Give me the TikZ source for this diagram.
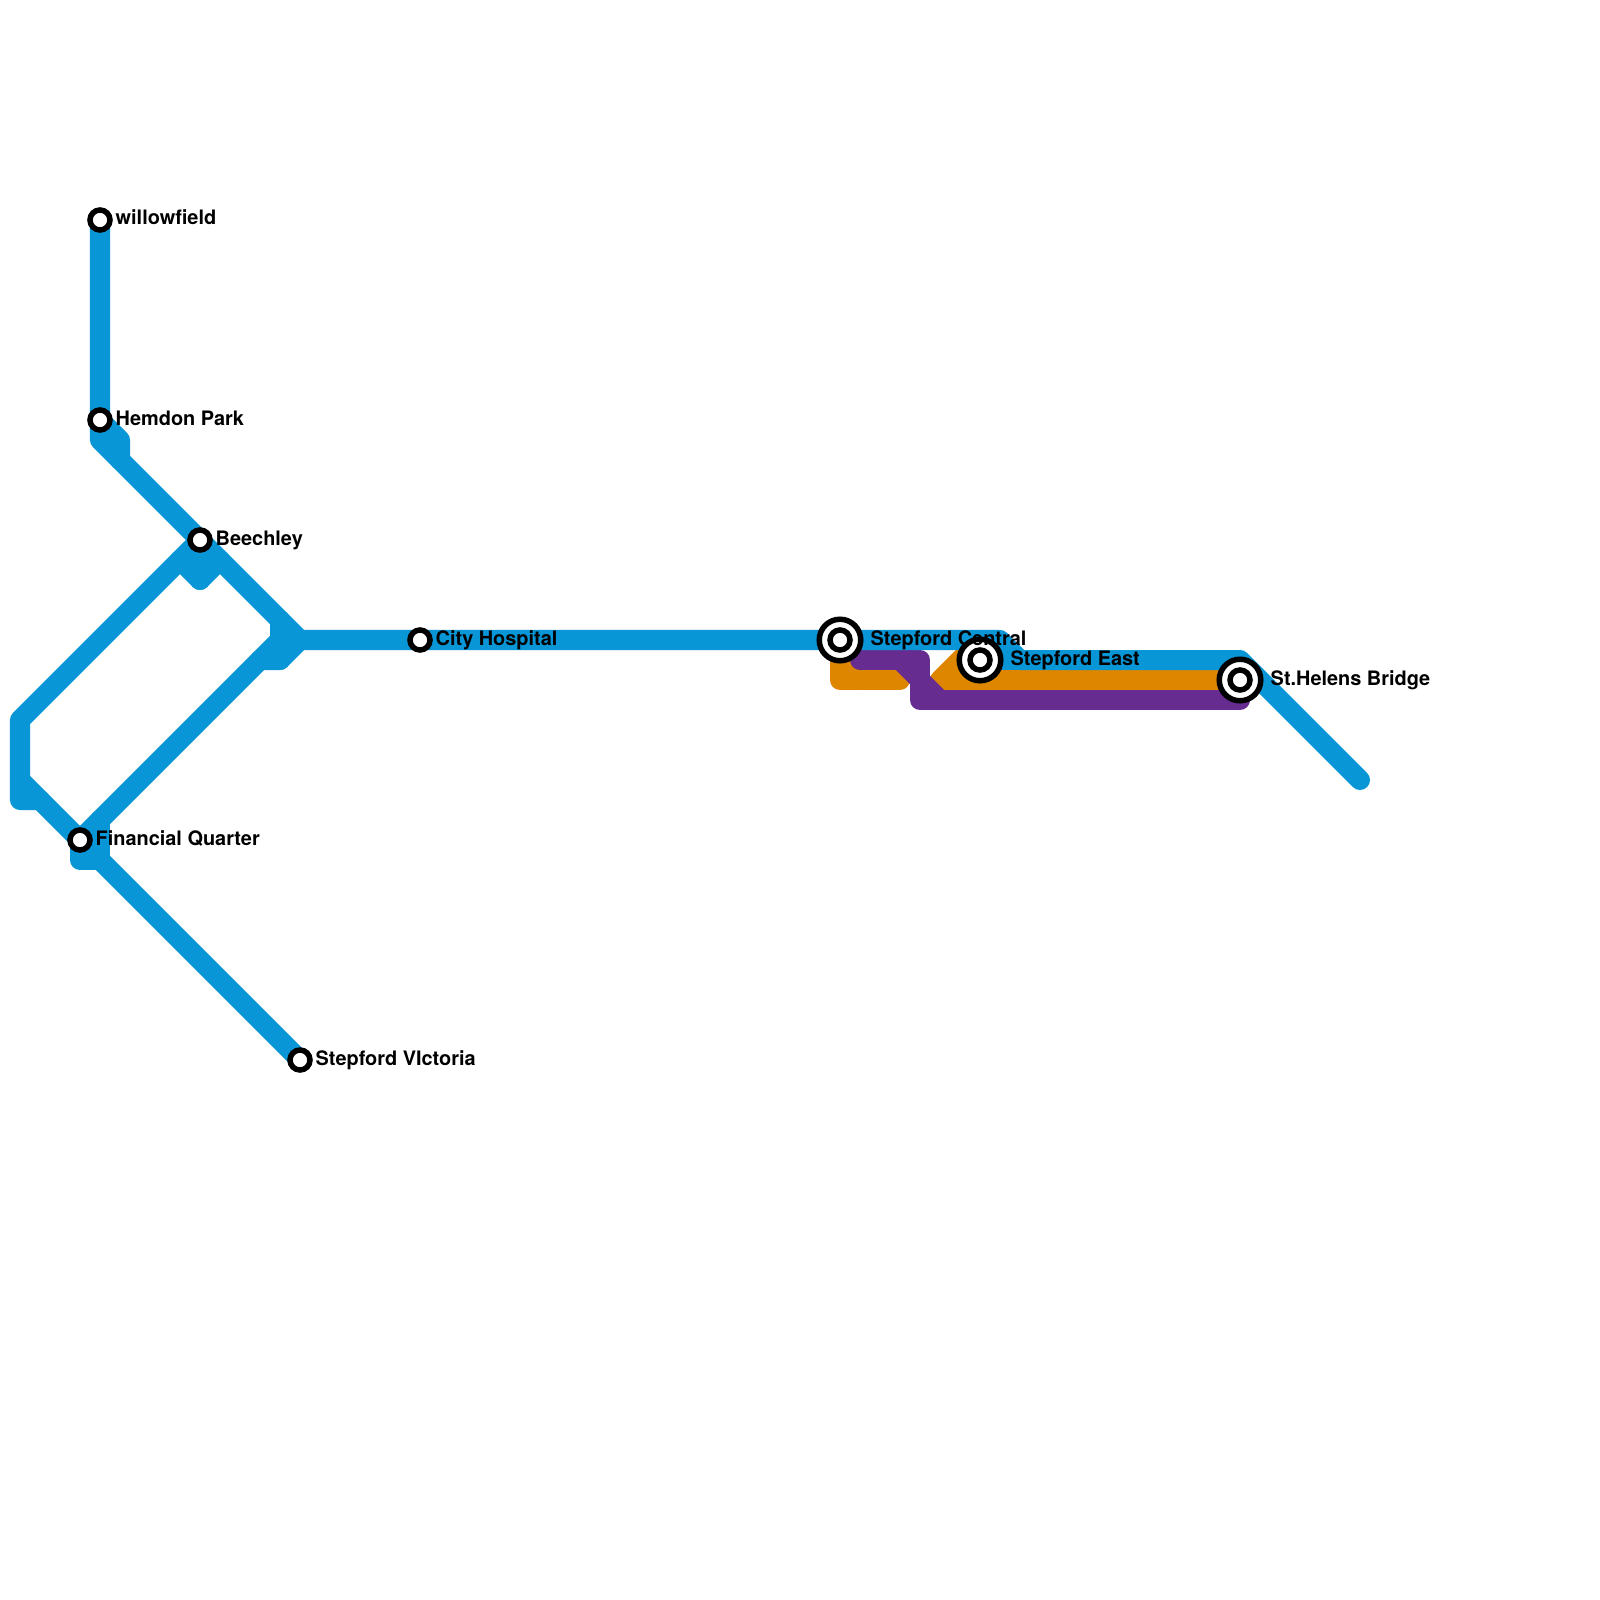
\documentclass[tikz,border=0pt]{standalone}
\usepackage{fontspec}
\setmainfont{TeX Gyre Heros}
\definecolor{lineblue}{HTML}{0896D7}
\definecolor{lineorange}{HTML}{DF8600}
\definecolor{linepurple}{HTML}{662C90}
\tikzset{
  route/.style={line width=0.2cm,line cap=round,line join=round},
  smallstn/.style={circle,draw=black,fill=white,line width=0.055cm,minimum size=0.2cm,inner sep=0pt,outer sep=0pt},
  bigstn/.style={circle,draw=black,fill=white,line width=0.055cm,minimum size=0.415cm,inner sep=0pt,outer sep=0pt},
  lbl/.style={anchor=base west,inner sep=0pt,font=\fontsize{1.99mm}{2.4mm}\selectfont\bfseries,text=black}
}
\begin{document}
\begin{tikzpicture}[x=0.01cm,y=-0.01cm]
\useasboundingbox[fill=white] (0,0) rectangle (1600,1600);
% stations and junctions
\coordinate (wf) at (100,220);
\coordinate (hp) at (100,420);
\coordinate (be) at (200,540);
\coordinate (ch) at (420,640);
\coordinate (sc) at (840,640);
\coordinate (se) at (980,660);
\coordinate (sh) at (1240,680);
\coordinate (fq) at (80,840);
\coordinate (sv) at (300,1060);
\coordinate (a1) at (100,440);
\coordinate (a2) at (120,440);
\coordinate (a3) at (120,460);
\coordinate (b1) at (180,560);
\coordinate (b2) at (200,580);
\coordinate (b3) at (220,560);
\coordinate (c1) at (300,640);
\coordinate (c2) at (280,620);
\coordinate (c3) at (280,660);
\coordinate (c4) at (260,660);
\coordinate (c5) at (280,640);
\coordinate (d1) at (20,720);
\coordinate (d2) at (20,780);
\coordinate (d3) at (20,800);
\coordinate (d4) at (40,800);
\coordinate (e1) at (80,860);
\coordinate (e2) at (100,860);
\coordinate (e3) at (100,820);
\coordinate (f1) at (1000,640);
\coordinate (f2) at (1020,660);
\coordinate (f3) at (1240,660);
\coordinate (f4) at (1360,780);
\coordinate (o1) at (840,680);
\coordinate (o2) at (900,680);
\coordinate (o3) at (980,640);
\coordinate (o4) at (940,680);
\coordinate (o5) at (860,680);
\coordinate (p1) at (860,660);
\coordinate (p2) at (900,660);
\coordinate (p3) at (920,660);
\coordinate (p4) at (920,680);
\coordinate (p5) at (920,700);
\coordinate (p6) at (940,700);
\coordinate (p7) at (1240,700);
% orange
\draw[route,lineorange] (sc) -- (o1) -- (o2);
\draw[route,lineorange] (sc) -- (p1) -- (o5);
\draw[route,lineorange] (o3) -- (o4) -- (sh);
% purple
\draw[route,linepurple] (p1) -- (p3) -- (p5) -- (p7);
\draw[route,linepurple] (p2) -- (p4) -- (p6);
% blue
\draw[route,lineblue] (wf) -- (a1) -- (c1) -- (f1) -- (f2) -- (f3) -- (f4);
\draw[route,lineblue] (se) -- (f2);
\draw[route,lineblue] (hp) -- (a2) -- (a3);
\draw[route,lineblue] (be) -- (d1) -- (d3) -- (d4);
\draw[route,lineblue] (b1) -- (b2) -- (b3);
\draw[route,lineblue] (be) -- (b2);
\draw[route,lineblue] (d2) -- (sv);
\draw[route,lineblue] (fq) -- (c5);
\draw[route,lineblue] (c4) -- (c3) -- (c1);
\draw[route,lineblue] (c2) -- (c3);
\draw[route,lineblue] (fq) -- (e1) -- (e2) -- (e3);
% station markers
\node[smallstn] (wfs) at (wf) {};
\node[smallstn] (hps) at (hp) {};
\node[smallstn] (bes) at (be) {};
\node[smallstn] (chs) at (ch) {};
\node[smallstn] (fqs) at (fq) {};
\node[smallstn] (svs) at (sv) {};
\node[bigstn] (scb) at (sc) {};
\node[smallstn] (scs) at (sc) {};
\node[bigstn] (seb) at (se) {};
\node[smallstn] (ses) at (se) {};
\node[bigstn] (shb) at (sh) {};
\node[smallstn] (shs) at (sh) {};
% labels
\node[lbl] (wfl) at (115,225) {willowfield};
\node[lbl] (hpl) at (115,425) {Hemdon Park};
\node[lbl] (bel) at (215,545) {Beechley};
\node[lbl] (chl) at (435,645) {City Hospital};
\node[lbl] (fql) at (95,845) {Financial Quarter};
\node[lbl] (svl) at (315,1065) {Stepford VIctoria};
\node[lbl] (scl) at (870,645) {Stepford Central};
\node[lbl] (sel) at (1010,665) {Stepford East};
\node[lbl] (shl) at (1270,685) {St.Helens Bridge};
\end{tikzpicture}
\end{document}
